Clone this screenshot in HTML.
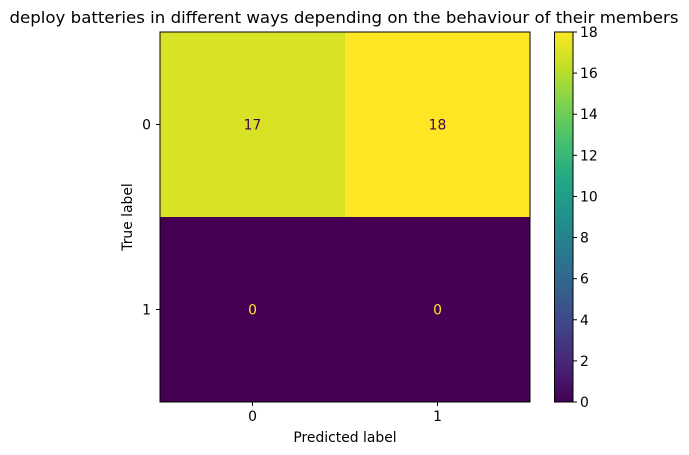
<!DOCTYPE html>
<html><head><meta charset="utf-8"><style>
body{margin:0;background:#fff;}
svg{display:block;font-family:"DejaVu Sans","Liberation Sans",sans-serif;}
</style></head><body>
<svg id="chart" width="689" height="455" xmlns="http://www.w3.org/2000/svg">
<defs>
<linearGradient id="vir" x1="0" y1="1" x2="0" y2="0">
<stop offset="0" stop-color="#440154"/><stop offset="0.1" stop-color="#482475"/><stop offset="0.2" stop-color="#414487"/><stop offset="0.3" stop-color="#355f8d"/><stop offset="0.4" stop-color="#2a788e"/><stop offset="0.5" stop-color="#21918c"/><stop offset="0.6" stop-color="#22a884"/><stop offset="0.7" stop-color="#44bf70"/><stop offset="0.8" stop-color="#7ad151"/><stop offset="0.9" stop-color="#bddf26"/><stop offset="1" stop-color="#fde725"/>
</linearGradient>
</defs>
<text x="344" y="23" font-size="16" text-anchor="middle" textLength="669" lengthAdjust="spacingAndGlyphs">deploy batteries in different ways depending on the behaviour of their members</text>
<g id="cells"></g>
<rect x="160" y="32" width="370" height="370" fill="none" stroke="#000" stroke-width="1"/>
<g id="axes"></g>
<text x="345" y="442" font-size="13.9" text-anchor="middle">Predicted label</text>
<text transform="translate(132,217) rotate(-90)" font-size="13.9" text-anchor="middle">True label</text>
<rect x="554.5" y="32" width="18.5" height="370" fill="url(#vir)" stroke="#000" stroke-width="1"/>
<g id="cbticks"></g>
</svg>
<script>
const classes=["0","1"];
const matrix=[[17,18],[0,0]];
const cbTicks=[0,2,4,6,8,10,12,14,16,18];
const vmin=0,vmax=18;
const L=160,T=32,S=370,n=classes.length,cs=S/n;
const stops=["#440154","#482475","#414487","#355f8d","#2a788e","#21918c","#22a884","#44bf70","#7ad151","#bddf26","#fde725"];
function hex(h){return [1,3,5].map(i=>parseInt(h.substr(i,2),16));}
function vir(t){t=Math.max(0,Math.min(1,t));const p=t*10,i=Math.min(9,Math.floor(p)),f=p-i;const a=hex(stops[i]),b=hex(stops[i+1]);return "rgb("+a.map((v,k)=>Math.round(v+(b[k]-v)*f)).join(",")+")";}
const NS="http://www.w3.org/2000/svg";
function mk(tag,attrs,txt){const e=document.createElementNS(NS,tag);for(const k in attrs)e.setAttribute(k,attrs[k]);if(txt!==undefined)e.textContent=txt;return e;}
const cells=document.getElementById("cells"),axes=document.getElementById("axes"),cb=document.getElementById("cbticks");
function x(j){return L+j*cs;}function y(i){return T+i*cs;}
for(let i=0;i<n;i++)for(let j=0;j<n;j++){
const v=matrix[i][j],t=(v-vmin)/(vmax-vmin);
const r=mk("rect",{x:x(j),y:y(i),width:cs+0.5,height:cs+0.5,fill:vir(t)});


cells.appendChild(r);
const tx=mk("text",{x:x(j)+cs/2,y:y(i)+cs/2+5,"font-size":13.9,"text-anchor":"middle",fill:t<0.5?"#fde725":"#440154"},String(v));


cells.appendChild(tx);
}
classes.forEach((c,k)=>{
const cx=x(k)+cs/2;
axes.appendChild(mk("line",{x1:cx,x2:cx,y1:402,y2:406,stroke:"#000"}));
const xl=mk("text",{x:cx,y:421,"font-size":13.9,"text-anchor":"middle"},c);


axes.appendChild(xl);
const cy=y(k)+cs/2;
axes.appendChild(mk("line",{x1:156,x2:160,y1:cy,y2:cy,stroke:"#000"}));
const yl=mk("text",{x:151,y:cy+5,"font-size":13.9,"text-anchor":"end"},c);


axes.appendChild(yl);
});
cbTicks.forEach(v=>{
const yy=402-(v-vmin)/(vmax-vmin)*370;
cb.appendChild(mk("line",{x1:573,x2:577,y1:yy,y2:yy,stroke:"#000"}));
const t=mk("text",{x:580,y:yy+5,"font-size":13.9},String(v));


cb.appendChild(t);
});
</script>
</body></html>
